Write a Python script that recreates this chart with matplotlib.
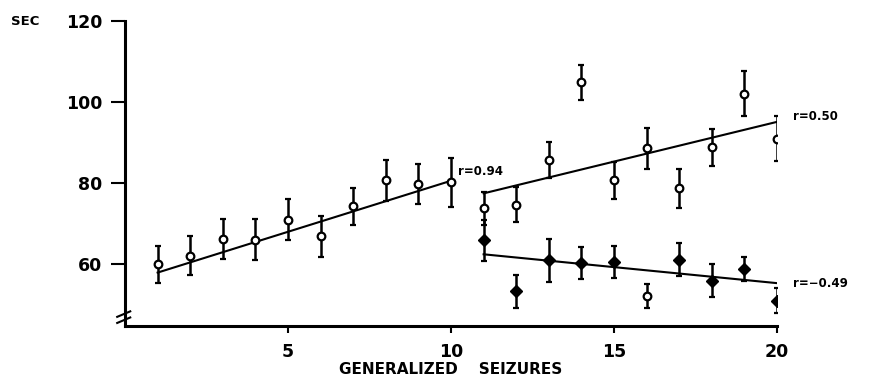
import matplotlib
matplotlib.use("Agg")
import matplotlib.pyplot as plt

# open circles: all 20 seizures
open_x = list(range(1, 21))
open_y = [60.0, 62.1, 66.3, 66.1, 71.0, 66.9, 74.3, 80.7, 79.9, 80.2,
          73.8, 74.7, 85.7, 104.9, 80.7, 88.6, 78.7, 88.8, 102.0, 91.0]
open_err = [4.5, 4.8, 5.0, 5.0, 5.0, 5.0, 4.5, 5.0, 4.9, 6.0,
            4.0, 4.3, 4.5, 4.3, 4.5, 5.0, 4.7, 4.5, 5.5, 5.5]

# filled diamonds: seizures 11-20 (point at 16 printed open)
filled_x = [11, 12, 13, 14, 15, 16, 17, 18, 19, 20]
filled_y = [65.9, 53.4, 61.0, 60.4, 60.6, 52.3, 61.2, 56.0, 58.9, 51.1]
filled_err = [5.0, 4.0, 5.2, 4.0, 4.0, 3.0, 4.0, 4.0, 3.0, 3.0]
filled_open = [16]

# regression lines (end points)
fit1_x, fit1_y = [1, 10], [58.0, 80.6]
fit2_x, fit2_y = [11, 20], [77.5, 95.1]
fit3_x, fit3_y = [11, 20], [62.5, 55.4]
r_labels = ["r=0.94", "r=0.50", "r=\u22120.49"]
r_pos = [(10.2, 82.8), (20.5, 96.3), (20.5, 55.4)]

plt.rcParams['font.family'] = 'DejaVu Sans'
plt.rcParams['font.weight'] = 'bold'

fig = plt.figure(figsize=(8.78, 3.83), dpi=100)
ax = fig.add_axes([0.1424, 0.1488, 0.7426, 0.7972])

ekw = dict(fmt='none', ecolor='black', elinewidth=1.8, capsize=2.5, capthick=1.6, zorder=2)
ax.errorbar(open_x, open_y, yerr=open_err, **ekw)
ax.errorbar(filled_x, filled_y, yerr=filled_err, **ekw)

ax.plot(open_x, open_y, 'o', ms=5.5, mfc='white', mec='black', mew=1.6, zorder=4)
for x, y in zip(filled_x, filled_y):
    if x in filled_open:
        ax.plot(x, y, 'o', ms=5.5, mfc='white', mec='black', mew=1.6, zorder=4)
    else:
        ax.plot(x, y, 'D', ms=6, mfc='black', mec='black', zorder=4)

for fx, fy in [(fit1_x, fit1_y), (fit2_x, fit2_y), (fit3_x, fit3_y)]:
    ax.plot(fx, fy, color='black', lw=1.5, zorder=3)

for lab, (tx, ty) in zip(r_labels, r_pos):
    ax.text(tx, ty, lab, fontsize=8.5, ha='left', va='center', fontweight='bold')

ax.set_xlim(0, 20)
ax.set_ylim(44.85, 120)
ax.set_xticks([5, 10, 15, 20])
ax.set_yticks([60, 80, 100, 120])
ax.tick_params(axis='y', direction='out', length=10, width=1.5, pad=6.5, labelsize=12.5)
ax.tick_params(axis='x', direction='out', length=5, width=1.5, pad=7, labelsize=12.5)
for s in ['top', 'right']:
    ax.spines[s].set_visible(False)
ax.spines['left'].set_linewidth(2.2)
ax.spines['bottom'].set_linewidth(2.2)

# axis break marks on the y axis
ax.plot([-0.012, 0.008], [0.030, 0.048], transform=ax.transAxes, color='black', lw=1.5, clip_on=False)
ax.plot([-0.012, 0.008], [0.010, 0.028], transform=ax.transAxes, color='black', lw=1.5, clip_on=False)

ax.set_xlabel("GENERALIZED    SEIZURES", fontsize=11, fontweight='bold', labelpad=1)
fig.text(0.012, 0.945, "SEC", fontsize=9.5, fontweight='bold', va='center')

fig.savefig("out.png", dpi=100)
